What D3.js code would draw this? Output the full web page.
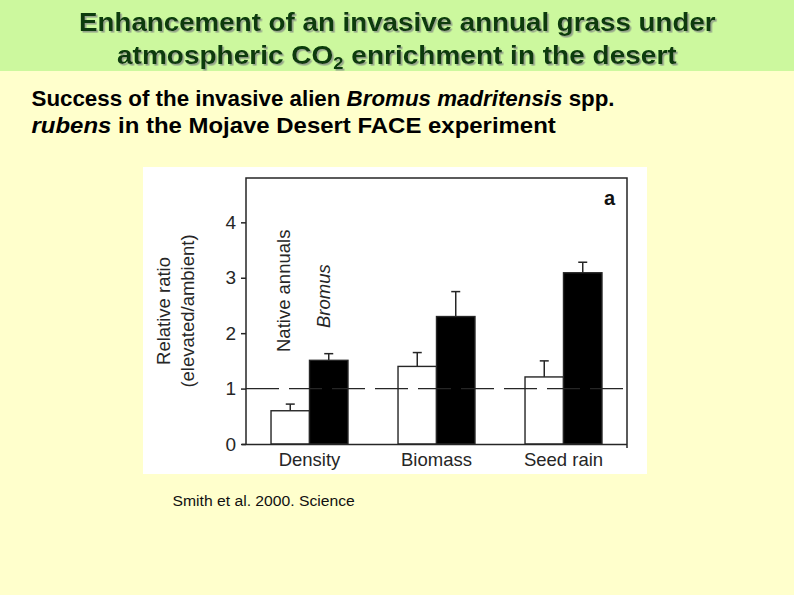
<!DOCTYPE html>
<html>
<head>
<meta charset="utf-8">
<script src="https://cdn.jsdelivr.net/npm/d3@7"></script>
<style>
  body { margin: 0; background: #ffffcc; }
  svg { display: block; font-family: "Liberation Sans", Arial, Helvetica, sans-serif; }
</style>
</head>
<body>
<svg id="slide" width="794" height="595"></svg>
<script>
// data
const categories = ['Density', 'Biomass', 'Seed rain'];
const series = ['Native annuals', 'Bromus'];
const nativeValues = [0.60, 1.40, 1.21];
const nativeErrors = [0.72, 1.65, 1.50];
const bromusValues = [1.51, 2.30, 3.09];
const bromusErrors = [1.63, 2.75, 3.28];
const yTicks = [0, 1, 2, 3, 4];

const svg = d3.select('#slide');

// drop shadow for the title
const defs = svg.append('defs');
defs.append('filter')
    .attr('id', 'shadow')
    .append('feDropShadow')
    .attr('dx', 1.6).attr('dy', 1.6)
    .attr('stdDeviation', 0.5)
    .attr('flood-color', '#8f9c88')
    .attr('flood-opacity', 0.9);

// slide background
svg.append('rect').attr('width', 794).attr('height', 595).attr('fill', '#ffffcc');
svg.append('rect').attr('width', 794).attr('height', 71).attr('fill', '#ccf89e');

// a text line squeezed/stretched horizontally so it spans [x0, x1]
function fitLine(parent, x0, x1, yBase, build) {
    const g = parent.append('g');
    const t = g.append('text').attr('x', 0).attr('y', 0);
    build(t);
    const w = t.node().getComputedTextLength();
    g.attr('transform', `translate(${x0},${yBase}) scale(${(x1 - x0) / w},1)`);
    return t;
}

const titleG = svg.append('g')
    .attr('fill', '#073a07')
    .attr('font-weight', 'bold')
    .attr('font-size', 26)
    .attr('filter', 'url(#shadow)');
fitLine(titleG, 79, 716, 31, t => t.text('Enhancement of an invasive annual grass under'));
fitLine(titleG, 117, 677, 64, t => {
    t.append('tspan').text('atmospheric CO');
    t.append('tspan').attr('font-size', 17).attr('dy', 5).text('2');
    t.append('tspan').attr('dy', -5).text(' enrichment in the desert');
});

const subG = svg.append('g')
    .attr('fill', '#000')
    .attr('font-weight', 'bold')
    .attr('font-size', 21.5);
fitLine(subG, 31.5, 615, 106, t => {
    t.append('tspan').text('Success of the invasive alien ');
    t.append('tspan').attr('font-style', 'italic').text('Bromus madritensis');
    t.append('tspan').text(' spp.');
});
fitLine(subG, 31.5, 556, 133, t => {
    t.append('tspan').attr('font-style', 'italic').text('rubens');
    t.append('tspan').text(' in the Mojave Desert FACE experiment');
});

fitLine(svg, 172.5, 355, 506, t => t.attr('font-size', 15).attr('fill', '#111').text('Smith et al. 2000. Science'));

// figure panel
svg.append('rect')
    .attr('x', 143).attr('y', 167)
    .attr('width', 504).attr('height', 307)
    .attr('fill', '#fff');

const plot = { left: 246, right: 627, top: 178, bottom: 444 };
const ink = '#262626';

const y = d3.scaleLinear().domain([0, 4.8]).range([plot.bottom, plot.top]);
const x0 = d3.scaleBand()
    .domain(categories)
    .range([plot.left, plot.right])
    .paddingInner(0.394)
    .paddingOuter(0.197);
const x1 = d3.scaleBand().domain(series).range([0, x0.bandwidth()]);

const rows = categories.map((c, i) => [
    { cat: c, s: series[0], v: nativeValues[i], e: nativeErrors[i], fill: '#fff' },
    { cat: c, s: series[1], v: bromusValues[i], e: bromusErrors[i], fill: '#000' }
]).flat();

// error bars
const capW = 9;
const err = svg.append('g').attr('stroke', ink).attr('stroke-width', 1.5);
rows.forEach(d => {
    const cx = x0(d.cat) + x1(d.s) + x1.bandwidth() / 2;
    err.append('line').attr('x1', cx).attr('x2', cx).attr('y1', y(d.v)).attr('y2', y(d.e));
    err.append('line').attr('x1', cx - capW / 2).attr('x2', cx + capW / 2).attr('y1', y(d.e)).attr('y2', y(d.e));
});

// bars
svg.append('g').selectAll('rect')
    .data(rows)
    .enter()
    .append('rect')
    .attr('x', d => x0(d.cat) + x1(d.s))
    .attr('y', d => y(d.v))
    .attr('width', x1.bandwidth())
    .attr('height', d => y(0) - y(d.v))
    .attr('fill', d => d.fill)
    .attr('stroke', ink)
    .attr('stroke-width', 1.4);

// reference line at 1
svg.append('line')
    .attr('x1', plot.left).attr('x2', plot.right)
    .attr('y1', y(1)).attr('y2', y(1))
    .attr('stroke', ink)
    .attr('stroke-width', 1.4)
    .attr('stroke-dasharray', '33,10');

// frame
svg.append('path')
    .attr('d', `M${plot.left},${plot.bottom}V${plot.top}H${plot.right}V${plot.bottom + 4}`)
    .attr('fill', 'none')
    .attr('stroke', ink)
    .attr('stroke-width', 1.5);

const yAxis = svg.append('g')
    .attr('transform', `translate(${plot.left},0)`)
    .call(d3.axisLeft(y).tickValues(yTicks).tickSize(5).tickPadding(5).tickFormat(d3.format('d')))
    .attr('font-family', null)
    .attr('font-size', 19);
yAxis.select('.domain').remove();
yAxis.selectAll('line').attr('stroke', ink).attr('stroke-width', 1.5);
yAxis.selectAll('text').attr('fill', ink);

const xAxis = svg.append('g')
    .attr('transform', `translate(0,${plot.bottom})`)
    .call(d3.axisBottom(x0).tickSize(0).tickPadding(9))
    .attr('font-family', null)
    .attr('font-size', 18.5);
xAxis.select('.domain').attr('stroke', ink).attr('stroke-width', 1.5).attr('d', `M${plot.left - 4},0.5H${plot.right}`);
xAxis.selectAll('text').attr('fill', ink);

// axis title
const yTitle = svg.append('text')
    .attr('transform', 'translate(170,311) rotate(-90)')
    .attr('text-anchor', 'middle')
    .attr('font-size', 18.5)
    .attr('fill', ink);
yTitle.append('tspan').attr('x', 0).attr('y', 0).text('Relative ratio');
yTitle.append('tspan').attr('x', 0).attr('y', 24).text('(elevated/ambient)');

// series labels
svg.append('text')
    .attr('transform', 'translate(290,352) rotate(-90)')
    .attr('font-size', 18.5).attr('fill', ink)
    .text(series[0]);
svg.append('text')
    .attr('transform', 'translate(330,328) rotate(-90)')
    .attr('font-size', 18.5).attr('font-style', 'italic').attr('fill', ink)
    .text(series[1]);

svg.append('text')
    .attr('x', 615).attr('y', 205)
    .attr('text-anchor', 'end')
    .attr('font-size', 20).attr('font-weight', 'bold')
    .attr('fill', '#111')
    .text('a');
</script>
</body>
</html>
